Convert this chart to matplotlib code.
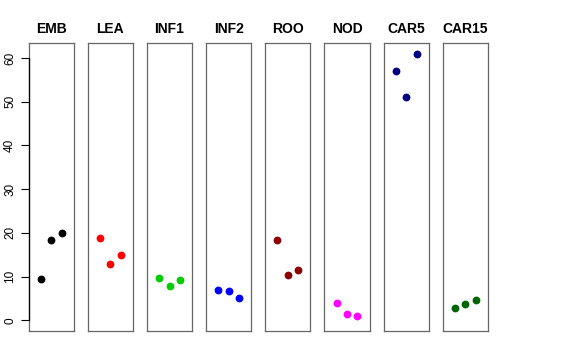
import matplotlib
matplotlib.use("Agg")
import matplotlib.pyplot as plt

plt.rcParams['font.family'] = ['Liberation Sans', 'DejaVu Sans']

# tissue groups and their three replicate values
tissues = ["EMB", "LEA", "INF1", "INF2", "ROO", "NOD", "CAR5", "CAR15"]
colors = ["black", "red", "#00CD00", "blue", "#8B0000", "magenta", "#000080", "#006400"]
emb = [9.4, 18.4, 19.9]
lea = [18.9, 12.9, 14.9]
inf1 = [9.75, 7.8, 9.3]
inf2 = [6.9, 6.6, 5.0]
roo = [18.3, 10.4, 11.4]
nod = [3.9, 1.5, 1.05]
car5 = [57.0, 51.1, 61.0]
car15 = [2.9, 3.7, 4.6]
values = [emb, lea, inf1, inf2, roo, nod, car5, car15]
reps = [1, 2, 3]
yticks = [0, 10, 20, 30, 40, 50, 60]

fig, axes = plt.subplots(1, len(tissues), figsize=(5.76, 3.6), dpi=100, sharey=True)
fig.subplots_adjust(left=0.0498, right=0.847, top=0.880, bottom=0.0806, wspace=0.31)

for i, ax in enumerate(axes):
    ax.plot(reps, values[i], 'o', color=colors[i], markersize=4.6, linestyle='none')
    ax.set_xlim(-0.16, 4.16)
    ax.set_ylim(-2.45, 63.4)
    ax.set_xticks([])
    ax.set_title(tissues[i], fontsize=10, fontweight='bold', pad=7)
    for s in ax.spines.values():
        s.set_color('#666666')
        s.set_linewidth(0.9)
    if i == 0:
        ax.set_yticks(yticks)
        ax.set_yticklabels([str(t) for t in yticks], rotation=90, va='center', fontsize=8.5)
        ax.tick_params(axis='y', length=6, width=0.8, pad=3)
        # R-style axis line spanning only the tick range
        ax.plot([0, 0], [yticks[0], yticks[-1]], color='black', linewidth=0.9,
                transform=ax.get_yaxis_transform(), clip_on=False, zorder=5)
    else:
        ax.tick_params(axis='y', left=False, labelleft=False)

fig.savefig("out.png", dpi=100)
